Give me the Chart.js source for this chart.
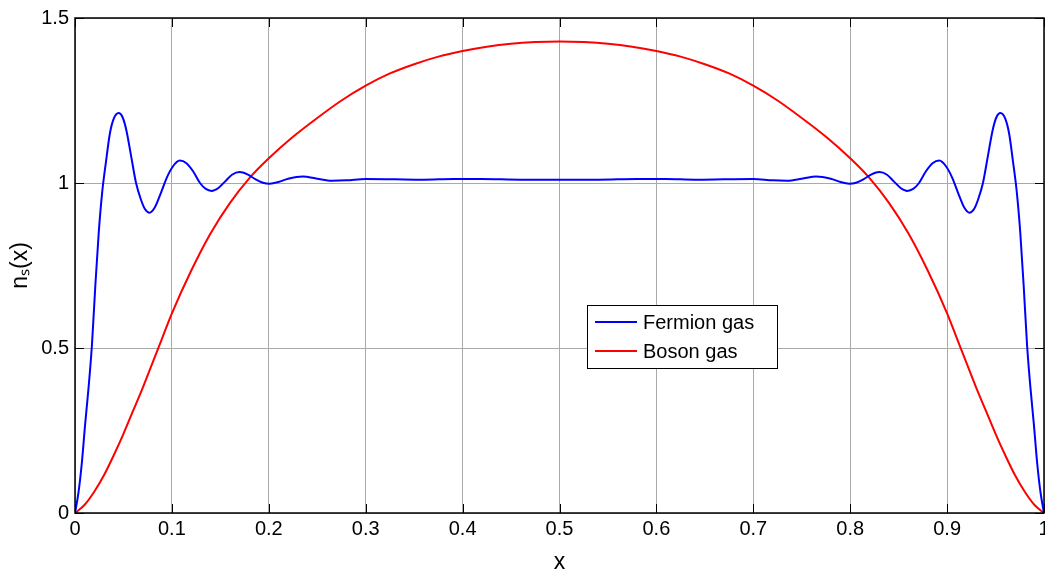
<!DOCTYPE html>
<html>
<head>
<meta charset="utf-8">
<script src="https://cdn.jsdelivr.net/npm/chart.js"></script>
<style>
  html, body { margin: 0; padding: 0; background: #fff; overflow: hidden; }
  #wrap { width: 1075px; height: 577px; }
</style>
</head>
<body>
<div id="wrap"><canvas id="myChart" width="1075" height="577"></canvas></div>
<script>
    // fermion gas curve
    const fermionX = [0, 0.0035, 0.007, 0.0105, 0.014, 0.0175, 0.021, 0.0245, 0.028, 0.032, 0.036, 0.040, 0.045, 0.049, 0.053, 0.058, 0.063, 0.068, 0.072, 0.077, 0.082, 0.088, 0.095, 0.101, 0.108, 0.115, 0.122, 0.129, 0.135, 0.141, 0.148, 0.155, 0.162, 0.170, 0.178, 0.186, 0.194, 0.201, 0.21, 0.22, 0.235, 0.25, 0.265, 0.28, 0.30, 0.33, 0.36, 0.39, 0.42, 0.46, 0.50,
        0.54, 0.58, 0.61, 0.64, 0.67, 0.70, 0.72, 0.735, 0.75, 0.765, 0.78, 0.79, 0.799, 0.806, 0.814, 0.822, 0.830, 0.838, 0.845, 0.852, 0.859, 0.865, 0.871, 0.878, 0.885, 0.892, 0.899, 0.905, 0.912, 0.918, 0.923, 0.928, 0.932, 0.937, 0.942, 0.947, 0.951, 0.955, 0.960, 0.964, 0.968, 0.972, 0.9755, 0.979, 0.9825, 0.986, 0.9895, 0.993, 0.9965, 1];
    const fermionY = [0, 0.06, 0.15, 0.27, 0.38, 0.51, 0.69, 0.85, 0.97, 1.065, 1.15, 1.195, 1.212, 1.2, 1.16, 1.08, 1.0, 0.95, 0.922, 0.91, 0.924, 0.965, 1.018, 1.05, 1.068, 1.06, 1.035, 1.0, 0.982, 0.976, 0.985, 1.005, 1.025, 1.033, 1.026, 1.012, 1.001, 0.998, 1.003, 1.013, 1.02, 1.013, 1.007, 1.008, 1.012, 1.011, 1.01, 1.012, 1.012, 1.01, 1.01,
        1.01, 1.012, 1.012, 1.01, 1.011, 1.012, 1.008, 1.007, 1.013, 1.02, 1.013, 1.003, 0.998, 1.001, 1.012, 1.026, 1.033, 1.025, 1.005, 0.985, 0.976, 0.982, 1.0, 1.035, 1.06, 1.068, 1.05, 1.018, 0.965, 0.924, 0.91, 0.922, 0.95, 1.0, 1.08, 1.16, 1.2, 1.212, 1.195, 1.15, 1.065, 0.97, 0.85, 0.69, 0.51, 0.38, 0.27, 0.15, 0.06, 0];

    // boson gas curve
    const bosonX = [0, 0.01, 0.02, 0.03, 0.04, 0.05, 0.06, 0.07, 0.08, 0.09, 0.10, 0.12, 0.14, 0.16, 0.18, 0.20, 0.225, 0.25, 0.275, 0.30, 0.325, 0.35, 0.375, 0.40, 0.425, 0.45, 0.475, 0.50,
        0.525, 0.55, 0.575, 0.60, 0.625, 0.65, 0.675, 0.70, 0.725, 0.75, 0.775, 0.80, 0.82, 0.84, 0.86, 0.88, 0.90, 0.91, 0.92, 0.93, 0.94, 0.95, 0.96, 0.97, 0.98, 0.99, 1];
    const bosonY = [0, 0.025, 0.065, 0.115, 0.175, 0.24, 0.31, 0.38, 0.455, 0.53, 0.605, 0.735, 0.848, 0.94, 1.015, 1.075, 1.14, 1.197, 1.25, 1.295, 1.332, 1.36, 1.383, 1.40, 1.413, 1.422, 1.427, 1.429,
        1.427, 1.422, 1.413, 1.40, 1.383, 1.36, 1.332, 1.295, 1.25, 1.197, 1.14, 1.075, 1.015, 0.94, 0.848, 0.735, 0.605, 0.53, 0.455, 0.38, 0.31, 0.24, 0.175, 0.115, 0.065, 0.025, 0];

    const seriesNames = ['Fermion gas', 'Boson gas'];
    const seriesColors = ['#0000ff', '#ff0000'];
    const xTitle = 'x';
    const yTitle = 'nₛ(x)';

    const toPts = (xs, ys) => xs.map((x, i) => ({ x: x, y: ys[i] }));
    const fmt = v => String(+(+v).toFixed(2));

    // MATLAB-like box, inward ticks and legend
    const matlabBox = {
        id: 'matlabBox',
        afterDraw(chart) {
            const ctx = chart.ctx;
            const a = chart.chartArea;
            const xs = chart.scales.x, ys = chart.scales.y;
            const tl = 9;
            ctx.save();
            ctx.strokeStyle = '#000';
            ctx.lineWidth = 1;
            ctx.beginPath();
            xs.ticks.forEach(t => {
                const px = Math.round(xs.getPixelForValue(t.value)) + 0.5;
                ctx.moveTo(px, a.bottom); ctx.lineTo(px, a.bottom - tl);
                ctx.moveTo(px, a.top); ctx.lineTo(px, a.top + tl);
            });
            ys.ticks.forEach(t => {
                const py = Math.round(ys.getPixelForValue(t.value)) + 0.5;
                ctx.moveTo(a.left, py); ctx.lineTo(a.left + tl, py);
                ctx.moveTo(a.right, py); ctx.lineTo(a.right - tl, py);
            });
            ctx.stroke();
            ctx.lineWidth = 1.5;
            ctx.strokeRect(a.left, a.top, a.right - a.left, a.bottom - a.top);

            // legend
            const lx = 587, ly = 305, lw = 190, lh = 63;
            ctx.fillStyle = '#fff';
            ctx.fillRect(lx, ly, lw, lh);
            ctx.lineWidth = 1;
            ctx.strokeStyle = '#000';
            ctx.strokeRect(lx + 0.5, ly + 0.5, lw, lh);
            ctx.font = '20px "Liberation Sans", Arial, sans-serif';
            ctx.textBaseline = 'middle';
            chart.data.datasets.forEach((ds, i) => {
                const y = ly + 17 + i * 29;
                ctx.strokeStyle = ds.borderColor;
                ctx.lineWidth = 2;
                ctx.beginPath();
                ctx.moveTo(lx + 8, y); ctx.lineTo(lx + 50, y);
                ctx.stroke();
                ctx.fillStyle = '#000';
                ctx.fillText(ds.label, lx + 56, y + 1);
            });
            ctx.restore();
        }
    };

    const font = { family: '"Liberation Sans", Arial, sans-serif', size: 20 };
    const titleFont = { family: '"Liberation Sans", Arial, sans-serif', size: 23 };

    var ctx = document.getElementById('myChart').getContext('2d');
    var myChart = new Chart(ctx, {
        type: 'line',
        data: {
            datasets: [{
                label: seriesNames[0],
                data: toPts(fermionX, fermionY),
                borderColor: seriesColors[0],
                borderWidth: 2,
                pointRadius: 0,
                cubicInterpolationMode: 'monotone'
            }, {
                label: seriesNames[1],
                data: toPts(bosonX, bosonY),
                borderColor: seriesColors[1],
                borderWidth: 2,
                pointRadius: 0,
                cubicInterpolationMode: 'monotone'
            }]
        },
        options: {
            responsive: false,
            animation: false,
            layout: { padding: { top: 15, right: 1075 - 1044, left: 0, bottom: 0 } },
            plugins: { legend: { display: false }, tooltip: { enabled: false } },
            scales: {
                x: {
                    type: 'linear',
                    min: 0, max: 1,
                    ticks: { stepSize: 0.1, color: '#000', font: font, padding: 4, maxRotation: 0, callback: fmt },
                    grid: { color: '#aaa', drawTicks: false },
                    border: { display: false },
                    title: { display: true, text: xTitle, color: '#000', font: titleFont, padding: { top: 0, bottom: 1 } },
                    afterFit: s => { s.height = 64; }
                },
                y: {
                    min: 0, max: 1.5,
                    ticks: { stepSize: 0.5, color: '#000', font: font, padding: 6, callback: fmt },
                    grid: { color: '#aaa', drawTicks: false },
                    border: { display: false },
                    title: { display: true, text: yTitle, color: '#000', font: titleFont, padding: { top: 7, bottom: 0 } },
                    afterFit: s => { s.width = 75; }
                }
            }
        },
        plugins: [matlabBox]
    });
</script>
</body>
</html>
